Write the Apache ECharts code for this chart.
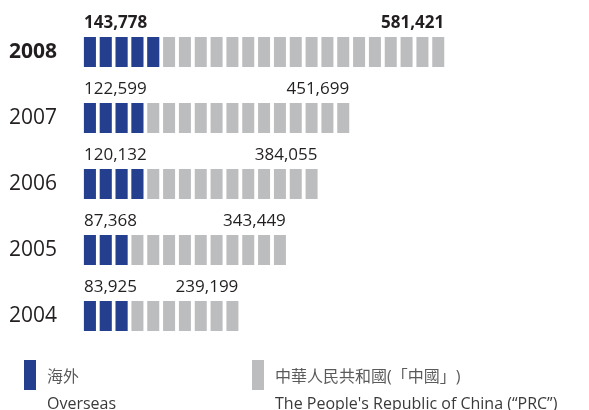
<!DOCTYPE html>
<html>
<head>
<meta charset="utf-8">
<script src="https://cdn.jsdelivr.net/npm/echarts@6/dist/echarts.min.js"></script>
<style>
  html, body { margin: 0; padding: 0; background: #fff; }
  #chart { width: 589px; height: 410px; }
</style>
</head>
<body>
<div id="chart"></div>
<script>
const years = ['2008', '2007', '2006', '2005', '2004']
const overseasValues = [143778, 122599, 120132, 87368, 83925]
const prcValues = [581421, 451699, 384055, 343449, 239199]
// number of blocks drawn in the picture for each bar
const overseasBlocks = [5, 4, 4, 3, 3]
const prcBlocks = [18, 13, 11, 10, 7]

const BLUE = '#243f8e'
const GREY = '#bcbdbf'
const TEXT = '#231f20'
const FONT = "'Open Sans', 'Noto Sans CJK TC', sans-serif"

const chart = echarts.init(document.getElementById('chart'))

const fmt = (v) => v.toLocaleString('en-US')

const blueData = overseasBlocks.map((n, i) => ({
  value: n,
  symbolRepeat: n,
  symbolBoundingData: n,
  label: { fontWeight: i === 0 ? 'bold' : 'normal' }
}))

const greyData = overseasBlocks.map((n, i) => ({
  value: n + prcBlocks[i],
  symbolRepeat: n + prcBlocks[i],
  symbolBoundingData: n + prcBlocks[i],
  label: { fontWeight: i === 0 ? 'bold' : 'normal' }
}))

const legendText = {
  '海外': '{cn|海外}\n{en|Overseas}',
  '中華人民共和國(「中國」)': '{cn|中華人民共和國(「中國」)}\n{en|The People\'s Republic of China (“PRC”)}'
}

const legendStyle = {
  top: 360,
  padding: 0,
  orient: 'vertical',
  icon: 'rect',
  itemWidth: 12,
  itemHeight: 30,
  selectedMode: false,
  formatter: (name) => legendText[name],
  textStyle: {
    padding: [31, 0, 0, 6],
    rich: {
      cn: { fontFamily: FONT, fontSize: 16, color: '#5a5a5a', lineHeight: 27 },
      en: { fontFamily: FONT, fontSize: 16, color: '#3a3a3a', lineHeight: 27 }
    }
  }
}

const option = {
  animation: false,
  backgroundColor: '#fff',
  grid: { left: 82, width: 475, top: 19, height: 330 },
  legend: [
    { ...legendStyle, left: 24, data: ['海外'] },
    { ...legendStyle, left: 252, data: ['中華人民共和國(「中國」)'] }
  ],
  xAxis: {
    type: 'value',
    min: 0,
    max: 30,
    show: false
  },
  yAxis: {
    type: 'category',
    inverse: true,
    data: years,
    axisLine: { show: false },
    axisTick: { show: false },
    splitLine: { show: false },
    axisLabel: {
      margin: 25,
      formatter: (v, i) => (i === 0 ? `{b|${v}}` : `{n|${v}}`),
      rich: {
        b: { fontFamily: FONT, fontSize: 21, fontWeight: 'bold', color: TEXT },
        n: { fontFamily: FONT, fontSize: 21, color: TEXT }
      }
    }
  },
  series: [
    {
      name: '中華人民共和國(「中國」)',
      type: 'pictorialBar',
      symbol: 'rect',
      symbolSize: [12, 30],
      symbolMargin: '0!',
      barWidth: 30,
      barGap: '-100%',
      itemStyle: { color: GREY },
      label: {
        show: true,
        position: ['100%', -5],
        offset: [-2, 0],
        align: 'right',
        verticalAlign: 'bottom',
        fontFamily: FONT,
        fontSize: 17,
        color: TEXT,
        formatter: (p) => fmt(prcValues[p.dataIndex])
      },
      data: greyData
    },
    {
      name: '海外',
      type: 'pictorialBar',
      symbol: 'rect',
      symbolSize: [12, 30],
      symbolMargin: '0!',
      barWidth: 30,
      barGap: '-100%',
      z: 3,
      itemStyle: { color: BLUE },
      label: {
        show: true,
        position: [2, -5],
        align: 'left',
        verticalAlign: 'bottom',
        fontFamily: FONT,
        fontSize: 17,
        color: TEXT,
        formatter: (p) => fmt(overseasValues[p.dataIndex])
      },
      data: blueData
    }
  ]
}

chart.setOption(option)
</script>
</body>
</html>
